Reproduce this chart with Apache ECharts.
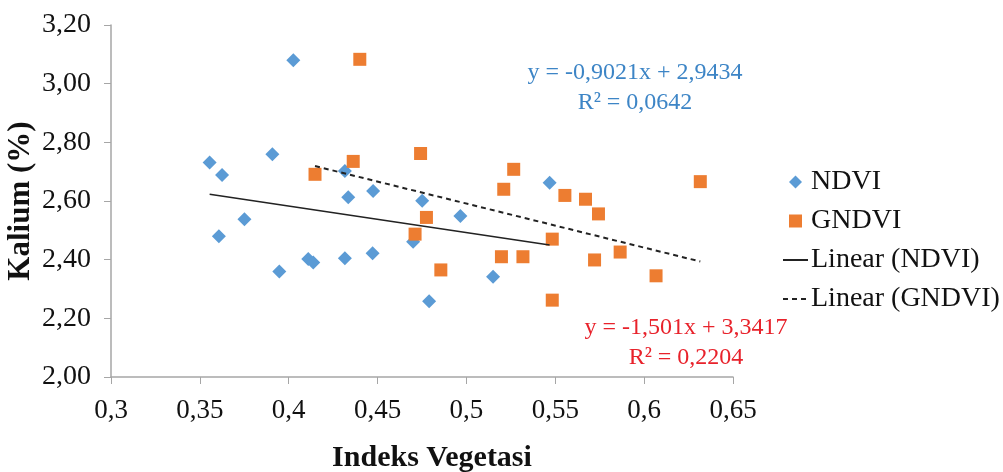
<!DOCTYPE html>
<html><head><meta charset="utf-8">
<script src="https://cdn.jsdelivr.net/npm/echarts@6/dist/echarts.min.js"></script>
<style>html,body{margin:0;padding:0;background:#fff}#c{width:1003px;height:472px}</style>
</head><body><div id="c"></div>
<script>
const xTicks = ['0,3','0,35','0,4','0,45','0,5','0,55','0,6','0,65'];
const yTicks = ['2,00','2,20','2,40','2,60','2,80','3,00','3,20'];
const ndviX = [0.3555,0.3625,0.3908,0.4316,0.4335,0.4475,0.3751,0.3607,0.3947,0.4110,0.4138,0.4316,0.4472,0.4026,0.5468,0.4751,0.4966,0.4700,0.5150,0.4790];
const ndviY = [2.731,2.689,2.759,2.702,2.613,2.634,2.538,2.480,2.360,2.402,2.390,2.405,2.422,3.080,2.662,2.601,2.549,2.461,2.342,2.258];
const gndviX = [0.4400,0.4148,0.4363,0.4742,0.5266,0.5210,0.5554,0.5670,0.5743,0.4775,0.4711,0.5483,0.5197,0.5318,0.5865,0.5721,0.4856,0.6067,0.5483,0.6316];
const gndviY = [3.083,2.691,2.735,2.762,2.708,2.640,2.619,2.606,2.556,2.544,2.487,2.470,2.410,2.410,2.426,2.399,2.365,2.345,2.262,2.666];
// trendline coefficients as printed on the chart
const ndviFit = {slope:-0.9021, icept:2.9434, eq:'y = -0,9021x + 2,9434', r2:'R² = 0,0642'};
const gndviFit = {slope:-1.501, icept:3.3417, eq:'y = -1,501x + 3,3417', r2:'R² = 0,2204'};

const pts = (xs, ys) => xs.map((x,i)=>[x, ys[i]]);
const fitLine = (xs, f) => { const a=Math.min(...xs), b=Math.max(...xs); return [[a, f.icept+f.slope*a],[b, f.icept+f.slope*b]]; };

const font = '"Liberation Serif","Times New Roman",serif';
const chart = echarts.init(document.getElementById('c'));
chart.setOption({
  animation:false,
  backgroundColor:'#fff',
  grid:{left:111, right:270, top:25, bottom:95, containLabel:false, outerBoundsMode:'none'},
  xAxis:{type:'value', min:0.3, max:0.65, interval:0.05,
    name:'Indeks Vegetasi', nameLocation:'middle', nameGap:66, nameMoveOverlap:false,
    nameTextStyle:{fontFamily:font, fontWeight:'bold', fontSize:30, color:'#111', padding:[0,0,0,20]},
    axisLine:{lineStyle:{color:'#a6a6a6', width:1.5}},
    axisTick:{show:true, length:7, lineStyle:{color:'#a6a6a6'}},
    splitLine:{show:false},
    axisLabel:{fontFamily:font, fontSize:27, color:'#111', margin:20,
      formatter:(v)=>xTicks[Math.round((v-0.3)/0.05)]}
  },
  yAxis:{type:'value', min:2.0, max:3.2, interval:0.2,
    name:'Kalium (%)', nameLocation:'middle', nameGap:75, nameRotate:90, nameMoveOverlap:false,
    nameTextStyle:{fontFamily:font, fontWeight:'bold', fontSize:31, color:'#111', padding:[0,0,0,0]},
    axisLine:{show:true, lineStyle:{color:'#a6a6a6', width:1.5}},
    axisTick:{show:true, length:7, lineStyle:{color:'#a6a6a6'}},
    splitLine:{show:false},
    axisLabel:{fontFamily:font, fontSize:28, color:'#111', margin:20,
      formatter:(v)=>yTicks[Math.round((v-2.0)/0.2)]}
  },
  legend:{orient:'vertical', left:777, top:163, itemGap:11, itemWidth:25, itemHeight:13, symbolKeepAspect:true,
    textStyle:{fontFamily:font, fontSize:28, color:'#111', padding:[0,0,0,-2]},
    data:[{name:'NDVI', icon:'path://M5,0L10,5L5,10L0,5Z'},
          {name:'GNDVI', icon:'path://M0,0H10V10H0Z'},
          {name:'Linear (NDVI)', itemStyle:{opacity:0}},
          {name:'Linear (GNDVI)', itemStyle:{opacity:0}}]
  },
  series:[
    {name:'NDVI', type:'scatter', symbol:'diamond', symbolSize:14, itemStyle:{color:'#5B9BD5', opacity:1}, data:pts(ndviX, ndviY), z:3},
    {name:'GNDVI', type:'scatter', symbol:'rect', symbolSize:13, itemStyle:{color:'#ED7D31', opacity:1}, data:pts(gndviX, gndviY), z:4},
    {name:'Linear (NDVI)', type:'line', symbol:'none', lineStyle:{color:'#222', width:1.5}, itemStyle:{color:'#222'}, data:fitLine(ndviX, ndviFit), z:5},
    {name:'Linear (GNDVI)', type:'line', symbol:'none', lineStyle:{color:'#222', width:2, type:[5,4]}, itemStyle:{color:'#222'}, data:fitLine(gndviX, gndviFit), z:5}
  ],
  graphic:[
    {type:'text', x:635, y:58, style:{text:ndviFit.eq+'\n'+ndviFit.r2, align:'center', fontFamily:font, fontSize:24, lineHeight:30, fill:'#3D85C6'}},
    {type:'text', x:686, y:313, style:{text:gndviFit.eq+'\n'+gndviFit.r2, align:'center', fontFamily:font, fontSize:24, lineHeight:30, fill:'#E8222B'}}
  ]
});
</script></body></html>
